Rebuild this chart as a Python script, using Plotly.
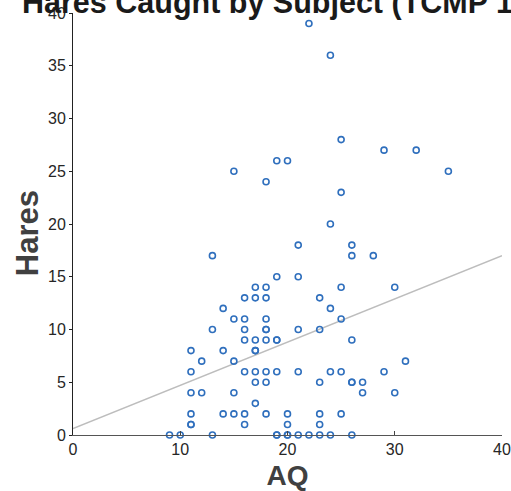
import plotly.graph_objects as go

# Data (AQ score vs hares caught)
aq = [9, 10,
      11, 11, 11, 11, 11, 11,
      12, 12,
      13, 13, 13,
      14, 14, 14,
      15, 15, 15, 15, 15,
      16, 16, 16, 16, 16, 16, 16,
      17, 17, 17, 17, 17, 17, 17, 17,
      18, 18, 18, 18, 18, 18, 18, 18, 18, 18,
      19, 19, 19, 19, 19, 19, 19,
      20, 20, 20, 20, 20,
      21, 21, 21, 21, 21,
      22, 22,
      23, 23, 23, 23, 23, 23,
      24, 24, 24, 24, 24,
      25, 25, 25, 25, 25, 25,
      26, 26, 26, 26, 26, 26,
      27, 27,
      28,
      29, 29,
      30, 30,
      31,
      32,
      35]
hares = [0, 0,
         8, 6, 4, 2, 1, 1,
         7, 4,
         17, 10, 0,
         12, 8, 2,
         25, 11, 7, 4, 2,
         13, 11, 10, 9, 6, 2, 1,
         14, 13, 9, 8, 8, 6, 5, 3,
         24, 14, 13, 11, 10, 10, 9, 6, 5, 2,
         26, 15, 9, 9, 6, 0, 0,
         26, 2, 1, 0, 0,
         18, 15, 10, 6, 0,
         39, 0,
         13, 10, 5, 2, 1, 0,
         36, 20, 12, 6, 0,
         28, 23, 14, 11, 6, 2,
         18, 17, 9, 5, 5, 0,
         5, 4,
         17,
         27, 6,
         14, 4,
         7,
         27,
         25]

# Least-squares line as drawn in the reference (endpoints)
fit_x = [0, 40]
fit_y = [0.6, 17.0]

x_ticks = [0, 10, 20, 30, 40]
y_ticks = [0, 5, 10, 15, 20, 25, 30, 35, 40]

title_text = "Hares Caught by Subject (TCMP 1)"
x_label = "AQ"
y_label = "Hares"

W, H = 511, 491

fig = go.Figure()
fig.add_trace(go.Scatter(
    x=fit_x, y=fit_y, mode="lines",
    line=dict(color="#bdbdbd", width=1.5),
    hoverinfo="skip", showlegend=False))
fig.add_trace(go.Scatter(
    x=aq, y=hares, mode="markers",
    marker=dict(symbol="circle-open", size=6, color="#2f6fbd",
                line=dict(width=1.6, color="#2f6fbd")),
    cliponaxis=False, showlegend=False))

fig.update_layout(
    width=W, height=H,
    margin=dict(l=73, r=9, t=13.3, b=55.5),
    paper_bgcolor="white", plot_bgcolor="white",
    font=dict(family="Liberation Sans, Arial, sans-serif", color="#262626"),
    title=dict(text="<b>" + title_text + "</b>",
               font=dict(size=30.5, color="#1a1a1a",
                         family="Liberation Sans, Arial, sans-serif"),
               xref="container", x=22/W, xanchor="left",
               yref="container", y=1 - 12.5/H, yanchor="bottom"),
    xaxis=dict(range=[0, 40], tickvals=x_ticks, ticks="inside", ticklen=4,
               tickcolor="#444", showline=True, linecolor="#555", linewidth=1.3,
               showgrid=False, zeroline=False, mirror=False,
               tickfont=dict(size=16, color="#262626"),
               ticklabeloverflow="allow",
               title=dict(text="<b>" + x_label + "</b>", standoff=11,
                          font=dict(size=28, color="#404040")),
               automargin=False, fixedrange=True),
    yaxis=dict(range=[0, 40], tickvals=y_ticks, ticks="outside", ticklen=3,
               tickcolor="#222", showline=True, linecolor="#222", linewidth=1,
               showgrid=False, zeroline=False,
               tickfont=dict(size=16, color="#262626"),
               ticklabeloverflow="allow",
               automargin=False, fixedrange=True),
    annotations=[dict(text="<b>" + y_label + "</b>", textangle=-90,
                      xref="paper", yref="paper", x=-0.107, y=0.4785,
                      xanchor="center", yanchor="middle", showarrow=False,
                      font=dict(size=31, color="#404040"))],
)

fig.write_html("out.html",
               config={"displayModeBar": False},
               post_script="document.body.style.margin='0';"
                           "document.body.style.overflow='hidden';")
